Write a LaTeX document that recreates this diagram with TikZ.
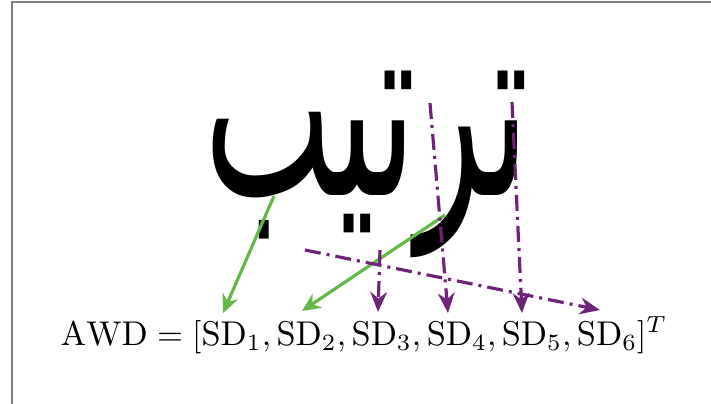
\documentclass[tikz,border=0pt]{standalone}
\usepackage{fontspec}
\usepackage{graphicx}
\newfontfamily\arabicfont[Script=Arabic]{DejaVu Sans}
\TeXXeTstate=1
\usetikzlibrary{arrows.meta}
\definecolor{arrgreen}{RGB}{100,185,70}
\definecolor{arrpurple}{RGB}{110,35,120}
\definecolor{framegray}{RGB}{128,128,128}
\tikzset{
  greenarrow/.style={draw=arrgreen, line width=0.95pt, -{Stealth[length=5.5pt,width=5pt]}},
  purplearrow/.style={draw=arrpurple, line width=0.95pt, dash pattern=on 4.8pt off 1.8pt on 0.9pt off 1.8pt, -{Stealth[length=6pt,width=5pt]}},
}
\begin{document}
\begin{tikzpicture}[x=0.3pt,y=-0.3pt]
\useasboundingbox (0,0) rectangle (711,404);
\draw[framegray, line width=0.6pt] (12,404) -- (12,2) -- (711,2);
\node[inner sep=0pt, anchor=north] (word) at (367,70) {\resizebox*{97.5pt}{56pt}{\arabicfont\beginR ترتيب\endR}};
\node[inner sep=0pt, anchor=base] (formula) at (364,345) {\fontsize{10.3pt}{12pt}\selectfont$\mathrm{AWD}=[\mathrm{SD}_1,\mathrm{SD}_2,\mathrm{SD}_3,\mathrm{SD}_4,\mathrm{SD}_5,\mathrm{SD}_6]^T$};
\coordinate (g1s) at (274,196);
\coordinate (g1e) at (223,313);
\coordinate (g2s) at (445,215);
\coordinate (g2e) at (302,311);
\coordinate (p1s) at (380,250);
\coordinate (p1e) at (378,312);
\coordinate (p2s) at (430,103);
\coordinate (p2e) at (448,313);
\coordinate (p3s) at (512,102);
\coordinate (p3e) at (522,313);
\coordinate (p4s) at (305,250);
\coordinate (p4e) at (600,310);
\draw[greenarrow] (g1s) -- (g1e);
\draw[greenarrow] (g2s) -- (g2e);
\draw[purplearrow] (p1s) -- (p1e);
\draw[purplearrow] (p2s) -- (p2e);
\draw[purplearrow] (p3s) -- (p3e);
\draw[purplearrow] (p4s) -- (p4e);
\end{tikzpicture}
\end{document}
